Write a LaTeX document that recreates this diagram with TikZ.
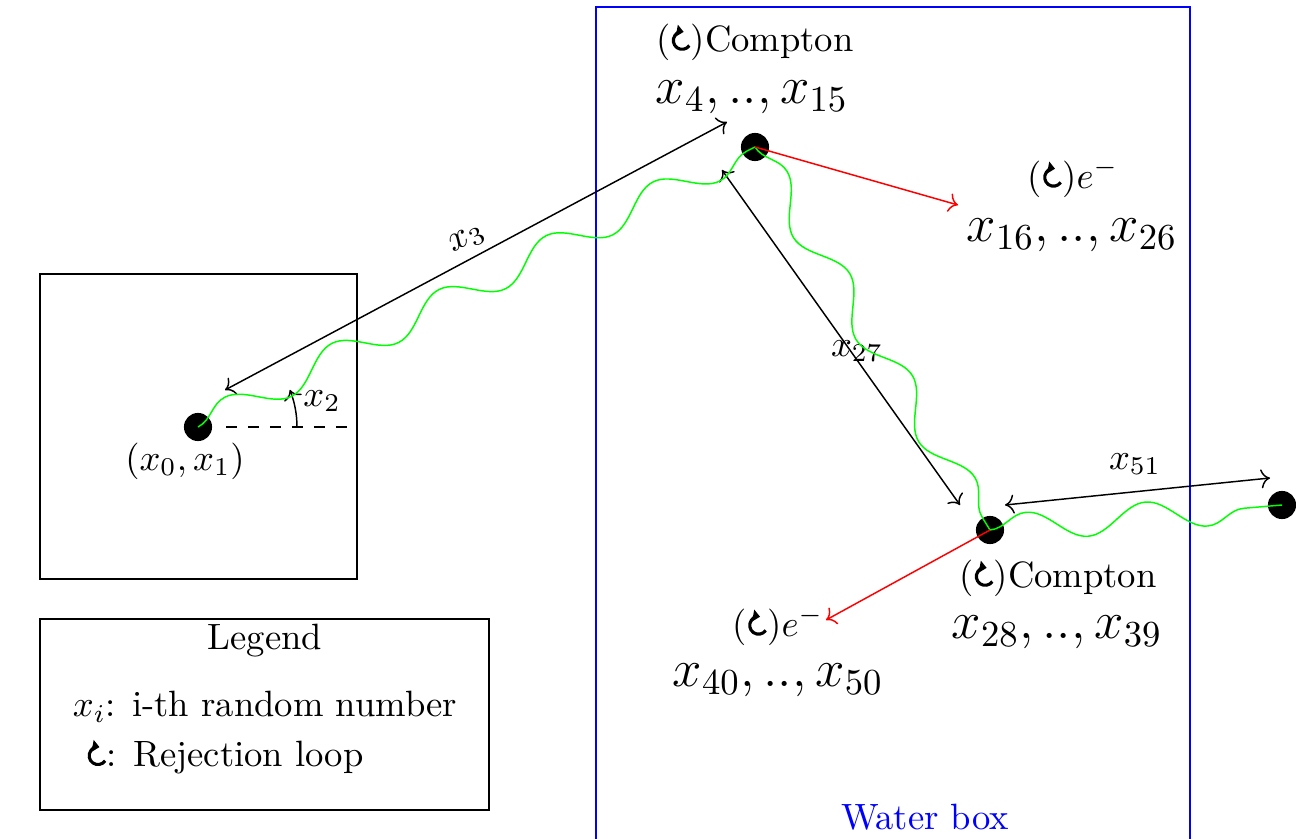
\documentclass[tikz,border=0pt]{standalone}
\usepackage{amsmath,amssymb}
\usetikzlibrary{decorations.pathmorphing,positioning,arrows.meta}

\newcommand{\rejloop}{\tikz[baseline={(0,-2.9pt)}, x=1pt, y=1pt, line width=0.85pt]
  \draw[-{Triangle[length=1.9pt,width=3.2pt]}] (-35:2.4) arc[start angle=-35, end angle=-280, radius=2.4];}

\begin{document}
\begin{tikzpicture}[
  x=0.0096cm, y=-0.0096cm,
  dot/.style={circle, fill=black, inner sep=0pt, minimum size=0.27cm},
  frame/.style={draw, rectangle, inner sep=0pt},
  photon/.style={green, decorate, decoration={snake, segment length=1.15cm, amplitude=1.4mm}},
  dim/.style={<->},
  elec/.style={->, red},
  big/.style={font=\Large},
  lbl/.style={inner sep=2pt}
]
\useasboundingbox (0,0) rectangle (1296,839);

% source region and water phantom
\node[frame, minimum width=3.04cm, minimum height=2.93cm] (srcbox) at (198.5,426.5) {};
\draw[blue] (596,900) |- (1190,7) -- (1190,900);
\node[blue] (water) at (925,817) {Water box};

% interaction points
\node[dot] (src) at (198,427) {};
\node[dot] (dot1) at (755,147) {};
\node[dot] (dot2) at (990,530) {};
\node[dot] (dot3) at (1282,505) {};

\node (srclbl) at (185,461) {$(x_0, x_1)$};

% emission angle
\coordinate (dashstart) at (226,427);
\coordinate (dashend) at (355,427);
\draw[dashed] (dashstart) -- (dashend);
\coordinate (angstart) at (297,427);
\draw[->] (angstart) arc[start angle=0, end angle=-22, radius=99];
\node (x2lbl) at (322,401) {$x_2$};

% free path lengths
\coordinate (a3s) at (225,390);
\coordinate (a3e) at (727,122);
\draw[dim] (a3s) -- node[sloped, above, lbl] {$x_3$} (a3e);
\coordinate (a27s) at (722,170);
\coordinate (a27e) at (960,505);
\draw[dim] (a27s) -- (a27e);
\node (x27lbl) at (857,351) {$x_{27}$};
\coordinate (a51s) at (1005,505);
\coordinate (a51e) at (1270,478);
\draw[dim] (a51s) -- (a51e);
\node (x51lbl) at (1135,464) {$x_{51}$};

% photon track
\draw[photon] (src.center) -- (dot1.center);
\draw[photon] (dot1.center) -- (dot2.center);
\draw[photon] (dot2.center) -- (dot3.center);

% electrons
\coordinate (e1end) at (958,205);
\coordinate (e2end) at (826,620);
\draw[elec] (dot1.center) -- (e1end);
\draw[elec] (dot2.center) -- (e2end);

% process labels
\node (c1) at (755,42) {(\rejloop)Compton};
\node[big] (r1) at (752,97) {$x_4, .., x_{15}$};
\node (e1) at (1073,178) {(\rejloop)$e^-$};
\node[big] (r2) at (1072,235) {$x_{16}, .., x_{26}$};
\node (c2) at (1058,578) {(\rejloop)Compton};
\node[big] (r3) at (1057,632) {$x_{28}, .., x_{39}$};
\node (e2) at (778,626) {(\rejloop)$e^-$};
\node[big] (r4) at (778,680) {$x_{40}, .., x_{50}$};

% legend
\node[frame, minimum width=4.31cm, minimum height=1.83cm] (legend) at (264.5,714.5) {};
\node (legtitle) at (265,641) {Legend};
\node (legx) at (265,707) {$x_i$: i-th random number};
\node (legrej) at (225,757) {\rejloop: Rejection loop};

\end{tikzpicture}
\end{document}
